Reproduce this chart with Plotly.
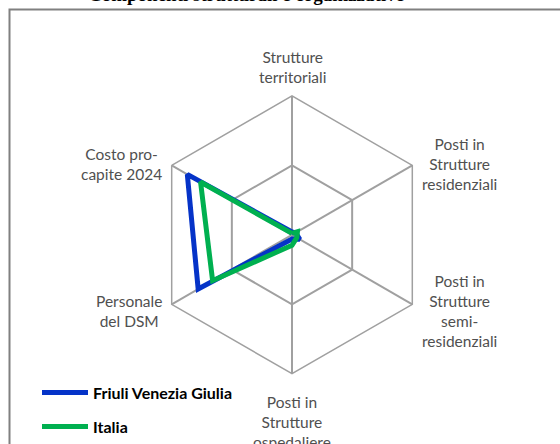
import math
import plotly.graph_objects as go

W, H = 560, 444

categories = [
    "Strutture<br>territoriali",
    "Posti in<br>Strutture<br>residenziali",
    "Posti in<br>Strutture<br>semi-<br>residenziali",
    "Posti in<br>Strutture<br>ospedaliere",
    "Personale<br>del DSM",
    "Costo pro-<br>capite 2024",
]
fvg = [0.02, 0.03, 0.065, 0.03, 0.78, 0.87]
italia = [0.01, 0.045, 0.04, 0.075, 0.66, 0.76]

series = [
    ("Friuli Venezia Giulia", fvg, "#0533C8"),
    ("Italia", italia, "#00B050"),
]

fig = go.Figure()
for i, (name, vals, color) in enumerate(series):
    fig.add_trace(go.Scatterpolar(
        r=vals + vals[:1],
        theta=categories + categories[:1],
        mode="lines",
        name=name,
        legendgroup=str(i),
        line=dict(color=color, width=5),
    ))

# centro e raggio del radar in pixel
cx, cy, R = 292, 237.5, 140.5
grid = "#A0A0A0"
label_font = dict(family="Lato", size=15.5, color="#505050")

# etichette delle categorie, centrate come in Excel
labels = []
for k, cat in enumerate(categories):
    a = math.radians(90 - 60 * k)
    px = cx + R * math.cos(a)
    py = cy - R * math.sin(a)
    c = math.cos(a)
    s = math.sin(a)
    if abs(c) < 1e-6:
        xa, ya = "center", ("bottom" if s > 0 else "top")
        dx, dy = 0, (8 if s > 0 else -17)
    else:
        xa, ya = ("left" if c > 0 else "right"), "middle"
        dx, dy = (6 if c > 0 else -6), (1 if s > 0 else -7)
    labels.append(dict(
        text=cat, x=px / W, y=1 - py / H, xref="paper", yref="paper",
        xanchor=xa, yanchor=ya, xshift=dx, yshift=dy, align="center",
        showarrow=False, font=label_font,
    ))

fig.update_layout(
    width=W, height=H,
    margin=dict(l=0, r=0, t=0, b=0),
    paper_bgcolor="white",
    font=dict(family="Lato", size=14, color="#505050"),
    polar=dict(
        domain=dict(x=[(cx - R) / W, (cx + R) / W],
                    y=[1 - (cy + R) / H, 1 - (cy - R) / H]),
        bgcolor="white",
        gridshape="linear",
        radialaxis=dict(range=[0, 1], dtick=0.5, showticklabels=False,
                        ticks="", showline=False, gridcolor=grid, gridwidth=1.5),
        angularaxis=dict(rotation=90, direction="clockwise", ticks="",
                         showticklabels=False,
                         showline=True, linecolor=grid, linewidth=1.5,
                         gridcolor=grid, gridwidth=1.5),
    ),
    legend=dict(
        x=37 / W, y=1 - 380 / H, xanchor="left", yanchor="top",
        font=dict(family="Lato", size=16, color="black", weight="bold"),
        tracegroupgap=10, itemwidth=46, bgcolor="rgba(0,0,0,0)",
    ),
    annotations=[dict(
        text="<b>Componenti strutturali e organizzative</b>",
        x=246 / W, y=1, xref="paper", yref="paper",
        xanchor="center", yanchor="bottom", yshift=-7, showarrow=False,
        font=dict(family="Liberation Serif", size=19, color="black"),
    )] + labels,
    shapes=[dict(
        type="rect", xref="paper", yref="paper",
        x0=9.5 / W, x1=1.2, y0=-0.2, y1=1 - 9.5 / H,
        line=dict(color="#808080", width=2),
    )],
)

fig.write_html("out.html", config={"displayModeBar": False},
               post_script="document.body.style.margin='0px';")
